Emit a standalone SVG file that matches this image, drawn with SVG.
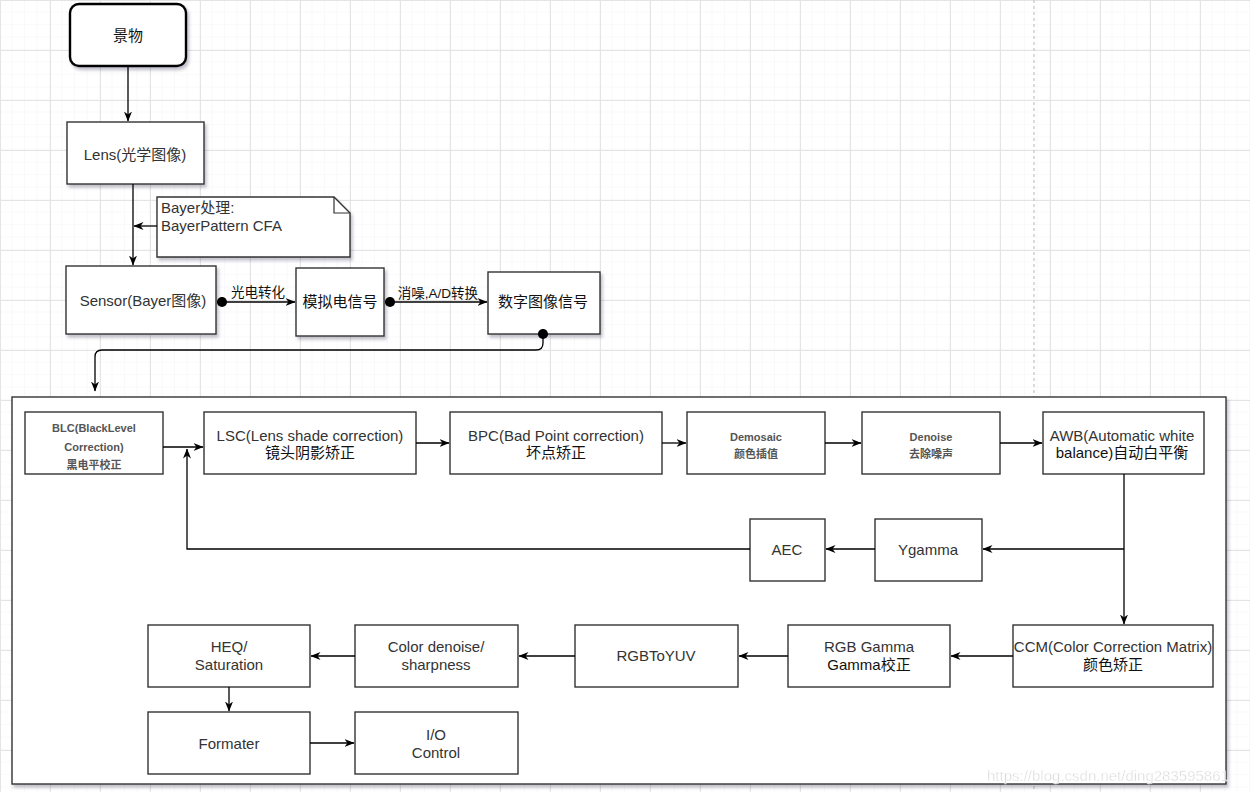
<svg xmlns="http://www.w3.org/2000/svg" width="1250" height="792" viewBox="0 0 1250 792">
<defs>
<pattern id="minor" width="12.5" height="12.5" patternUnits="userSpaceOnUse">
<path d="M12.5 0 V12.5 M0 12.5 H12.5" fill="none" stroke="#f3f3f3" stroke-width="1"/>
</pattern>
<pattern id="major" width="50" height="50" patternUnits="userSpaceOnUse">
<rect width="50" height="50" fill="url(#minor)"/>
<path d="M0.5 0 V50 M0 0.5 H50" fill="none" stroke="#e4e4e4" stroke-width="1"/>
</pattern>
<filter id="sh" x="-10%" y="-10%" width="130%" height="140%">
<feDropShadow dx="2" dy="3" stdDeviation="1.5" flood-color="#3a3a5a" flood-opacity="0.3"/>
</filter>
<marker id="arr" viewBox="0 0 10 8" refX="9.5" refY="4" markerWidth="10" markerHeight="8" markerUnits="userSpaceOnUse" orient="auto">
<path d="M0,0 L10,4 L0,8 L3,4 z" fill="#000"/>
</marker>
<marker id="dot" viewBox="0 0 10 10" refX="5" refY="5" markerWidth="11" markerHeight="11" markerUnits="userSpaceOnUse" orient="auto">
<circle cx="5" cy="5" r="4.6" fill="#000"/>
</marker>
</defs>
<style>
.box{fill:#fff;stroke:#333;stroke-width:1.4}
.t{font-family:"Liberation Sans","Noto Sans CJK SC",sans-serif;font-size:15px;fill:#333;text-anchor:middle}
.c{font-family:"Liberation Sans","Noto Sans CJK SC",sans-serif;font-size:15px;fill:#111;text-anchor:middle}
.s{font-family:"Liberation Sans","Noto Sans CJK SC",sans-serif;font-size:11px;font-weight:bold;fill:#555;text-anchor:middle}
.lbl{font-family:"Liberation Sans","Noto Sans CJK SC",sans-serif;font-size:13.5px;fill:#111;text-anchor:middle}
.e{fill:none;stroke:#000;stroke-width:1.3}
</style>
<rect width="1250" height="792" fill="#fff"/>
<rect width="1250" height="792" fill="url(#major)"/>
<line x1="1034" y1="0" x2="1034" y2="792" stroke="#c8c8c8" stroke-width="1.3" stroke-dasharray="3,3"/>

<g id="container"><rect class="box" x="12" y="397" width="1214" height="387" filter="url(#sh)" stroke-width="1.6"/></g>

<g id="n-jingwu"><rect x="70" y="4" width="116" height="62" rx="9" fill="#fff" stroke="#000" stroke-width="2.4" filter="url(#sh)"/><text class="c" x="128" y="41">景物</text></g>
<g id="n-lens"><rect class="box" x="67" y="122" width="137" height="62" filter="url(#sh)"/><text class="t" x="135" y="160">Lens(光学图像)</text></g>
<g id="n-note"><path d="M157 197 H334 L350 213 V257 H157 Z" fill="#fff" stroke="#333" stroke-width="1.4" filter="url(#sh)"/><path d="M334 197 V213 H350" fill="none" stroke="#333" stroke-width="1.2"/>
<text class="t" x="161" y="213" style="text-anchor:start">Bayer处理:</text><text class="t" x="161" y="231" style="text-anchor:start">BayerPattern CFA</text></g>
<g id="n-sensor"><rect class="box" x="66" y="266" width="150" height="68" filter="url(#sh)"/><text class="t" x="143" y="306">Sensor(Bayer图像)</text></g>
<g id="n-analog"><rect class="box" x="296" y="268" width="88" height="68" filter="url(#sh)"/><text class="c" x="340" y="307">模拟电信号</text></g>
<g id="n-digital"><rect class="box" x="488" y="272" width="112" height="62" filter="url(#sh)"/><text class="c" x="543" y="307">数字图像信号</text></g>

<g id="n-blc"><rect class="box" x="25" y="412" width="138" height="62"/><text class="s" x="94" y="432">BLC(BlackLevel</text><text class="s" x="94" y="451">Correction)</text><text class="s" x="94" y="469">黑电平校正</text></g>
<g id="n-lsc"><rect class="box" x="204" y="412" width="212" height="62"/><text class="t" x="310" y="441">LSC(Lens shade correction)</text><text class="c" x="310" y="458">镜头阴影矫正</text></g>
<g id="n-bpc"><rect class="box" x="450" y="412" width="212" height="62"/><text class="t" x="556" y="441">BPC(Bad Point correction)</text><text class="c" x="556" y="458">坏点矫正</text></g>
<g id="n-demosaic"><rect class="box" x="687" y="412" width="138" height="62"/><text class="s" x="756" y="441">Demosaic</text><text class="s" x="756" y="458">颜色插值</text></g>
<g id="n-denoise"><rect class="box" x="862" y="412" width="138" height="62"/><text class="s" x="931" y="441">Denoise</text><text class="s" x="931" y="458">去除噪声</text></g>
<g id="n-awb"><rect class="box" x="1043" y="412" width="161" height="62"/><text class="t" x="1122" y="441">AWB(Automatic white</text><text class="c" x="1122" y="458">balance)自动白平衡</text></g>
<g id="n-ygamma"><rect class="box" x="875" y="519" width="107" height="62"/><text class="t" x="928" y="555">Ygamma</text></g>
<g id="n-aec"><rect class="box" x="750" y="519" width="75" height="62"/><text class="t" x="787" y="555">AEC</text></g>
<g id="n-ccm"><rect class="box" x="1013" y="625" width="200" height="62"/><text class="t" x="1113" y="652">CCM(Color Correction Matrix)</text><text class="c" x="1113" y="670">颜色矫正</text></g>
<g id="n-rgbgamma"><rect class="box" x="788" y="625" width="162" height="62"/><text class="t" x="869" y="652">RGB Gamma</text><text class="c" x="869" y="670">Gamma校正</text></g>
<g id="n-rgbtoyuv"><rect class="box" x="575" y="625" width="163" height="62"/><text class="t" x="656" y="661">RGBToYUV</text></g>
<g id="n-colordenoise"><rect class="box" x="355" y="625" width="163" height="62"/><text class="t" x="436" y="652">Color denoise/</text><text class="t" x="436" y="670">sharpness</text></g>
<g id="n-heq"><rect class="box" x="148" y="625" width="162" height="62"/><text class="t" x="229" y="652">HEQ/</text><text class="t" x="229" y="670">Saturation</text></g>
<g id="n-formater"><rect class="box" x="148" y="712" width="162" height="62"/><text class="t" x="229" y="749">Formater</text></g>
<g id="n-io"><rect class="box" x="355" y="712" width="163" height="62"/><text class="t" x="436" y="740">I/O</text><text class="t" x="436" y="758">Control</text></g>

<g id="connectors">
<path class="e" d="M128 66 V121" marker-end="url(#arr)"/>
<path class="e" d="M133 184 V265" marker-end="url(#arr)"/>
<path class="e" d="M157 226 H134" marker-end="url(#arr)"/>
<path class="e" d="M222 302 H295" marker-start="url(#dot)" marker-end="url(#arr)"/>
<text class="lbl" x="258" y="297">光电转化</text>
<path class="e" d="M390 302 H487" marker-start="url(#dot)" marker-end="url(#arr)"/>
<text class="lbl" x="438" y="298">消噪,A/D转换</text>
<path class="e" d="M543 334 V343 Q543 350 536 350 H102 Q95 350 95 357 V391" marker-start="url(#dot)" marker-end="url(#arr)"/>
<path class="e" d="M163 447 H203" marker-end="url(#arr)"/>
<path class="e" d="M416 443 H449" marker-end="url(#arr)"/>
<path class="e" d="M662 443 H686" marker-end="url(#arr)"/>
<path class="e" d="M825 443 H861" marker-end="url(#arr)"/>
<path class="e" d="M1000 443 H1042" marker-end="url(#arr)"/>
<path class="e" d="M1124 474 V624" marker-end="url(#arr)"/>
<path class="e" d="M1124 549 H983" marker-end="url(#arr)"/>
<path class="e" d="M875 549 H826" marker-end="url(#arr)"/>
<path class="e" d="M750 549 H187 V449" marker-end="url(#arr)"/>
<path class="e" d="M1013 656 H951" marker-end="url(#arr)"/>
<path class="e" d="M788 656 H739" marker-end="url(#arr)"/>
<path class="e" d="M575 656 H519" marker-end="url(#arr)"/>
<path class="e" d="M355 656 H311" marker-end="url(#arr)"/>
<path class="e" d="M229 687 V711" marker-end="url(#arr)"/>
<path class="e" d="M310 743 H354" marker-end="url(#arr)"/>
</g>
<text x="987" y="781" font-family="Liberation Sans, sans-serif" font-size="15" fill="#d4d4d4" stroke="#ffffff" stroke-width="0.4" opacity="0.9">https://blog.csdn.net/ding283595861</text>
</svg>
